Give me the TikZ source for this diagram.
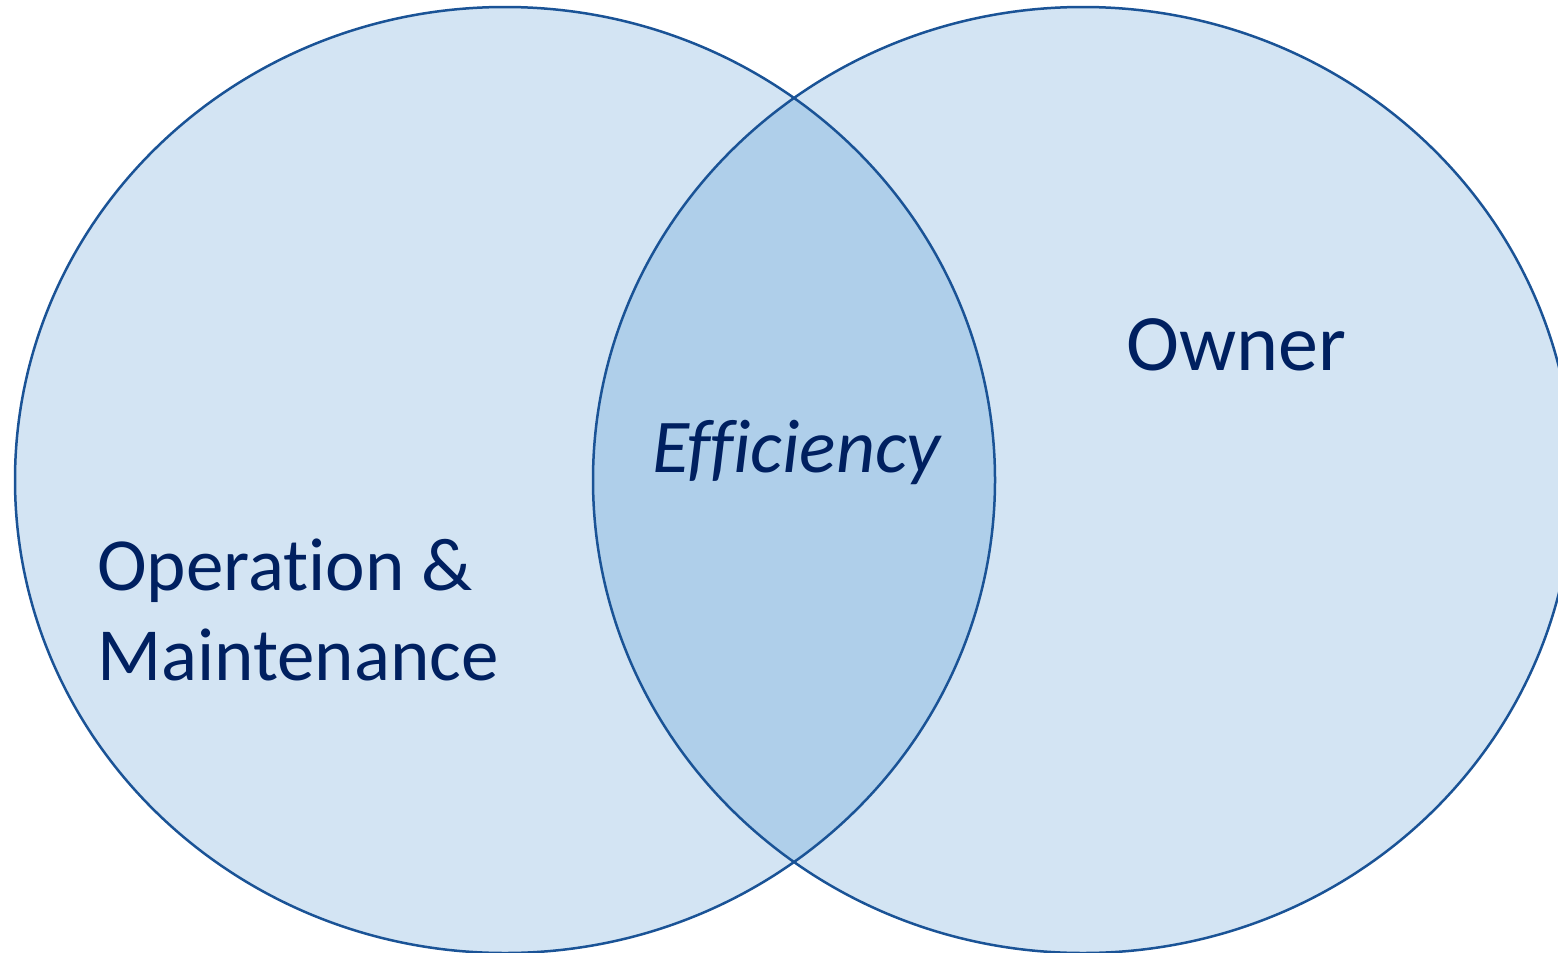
\documentclass[tikz,border=0pt]{standalone}
\usepackage{fontspec}
\setmainfont{Carlito}[Ligatures={NoCommon}]
\definecolor{setfill}{HTML}{D3E4F3}
\definecolor{capfill}{HTML}{AFCFEA}
\definecolor{setline}{HTML}{1A5396}
\definecolor{labelblue}{HTML}{002060}
\begin{document}
\begin{tikzpicture}[x=1pt,y=-1pt,
  setshape/.style={fill=setfill},
  setedge/.style={draw=setline,line width=2.5pt},
  lbl/.style={text=labelblue,font=\fontsize{80}{90}\selectfont,inner sep=0pt,anchor=base west}]
\useasboundingbox (0,0) rectangle (1558,953);
\begin{scope}
\clip (0,0) rectangle (1558,953);
\fill[setshape] (505,480) ellipse [x radius=490, y radius=473];
\fill[setshape] (1083,480) ellipse [x radius=490, y radius=473];
\begin{scope}
\clip (505,480) ellipse [x radius=490, y radius=473];
\fill[capfill] (1083,480) ellipse [x radius=490, y radius=473];
\end{scope}
\draw[setedge] (505,480) ellipse [x radius=490, y radius=473];
\draw[setedge] (1083,480) ellipse [x radius=490, y radius=473];
\end{scope}
\node[lbl,font=\fontsize{75}{90}\selectfont] (op) at (97,590) {Operation \&};
\node[lbl,font=\fontsize{75}{90}\selectfont] (mt) at (97,680) {Maintenance};
\node[lbl] (owner) at (1126,370) {Owner};
\node[lbl,font=\fontsize{76}{90}\selectfont\itshape] (eff) at (652,472) {Efficiency};
\end{tikzpicture}
\end{document}
